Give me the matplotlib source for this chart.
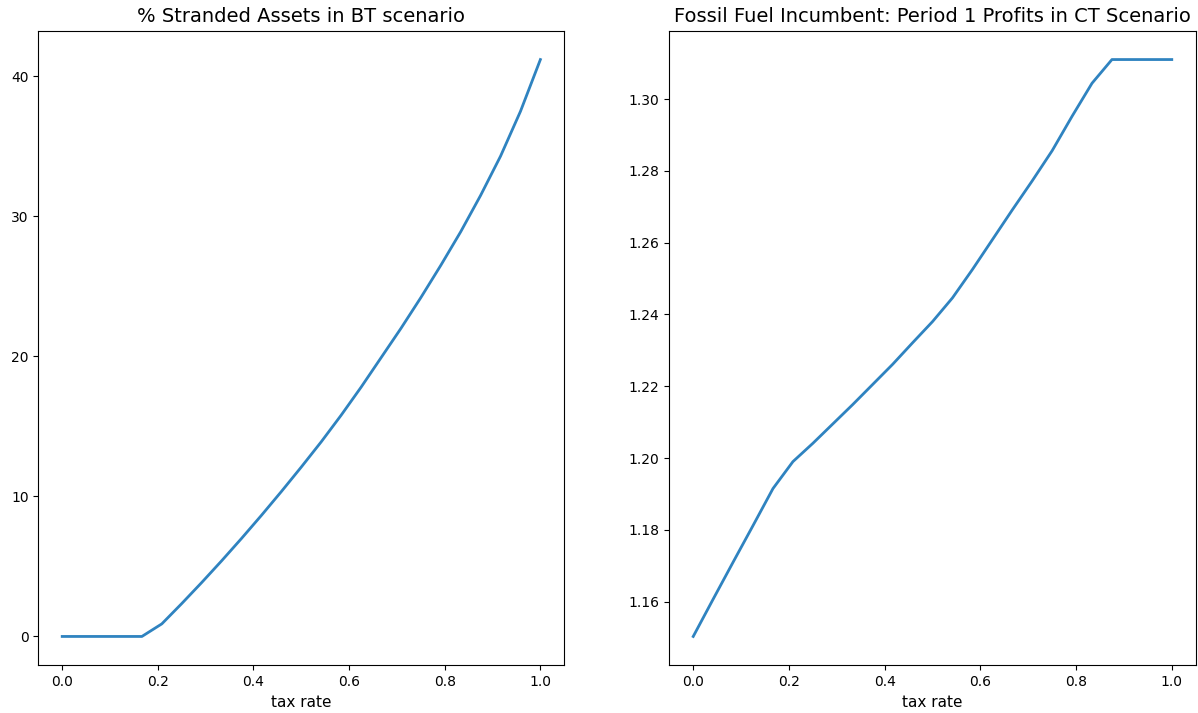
import numpy as np
import matplotlib
matplotlib.use("Agg")
import matplotlib.pyplot as plt

# Tax rate grid (25 points from 0 to 1)
tax_rate = np.linspace(0, 1, 25)

# Share of stranded assets (%) in the BT scenario
stranded_pct = [0.0, 0.0, 0.0, 0.0, 0.0, 0.9, 2.35, 3.85, 5.4, 7.0,
                8.65, 10.35, 12.1, 13.9, 15.8, 17.8, 19.9, 22.0, 24.2,
                26.5, 28.9, 31.5, 34.3, 37.5, 41.2]

# Incumbent period-1 profits in the CT scenario
profits_ct = [1.1503, 1.1607, 1.1710, 1.1812, 1.1915, 1.1990, 1.2041,
              1.2095, 1.2149, 1.2205, 1.2261, 1.2321, 1.2380, 1.2446,
              1.2525, 1.2608, 1.2691, 1.2772, 1.2856, 1.2952, 1.3044,
              1.3110, 1.3110, 1.3110, 1.3110]

W, H = 1198, 713
fig = plt.figure(figsize=(W / 100, H / 100), dpi=100)

def axes_px(left, top, right, bottom):
    return fig.add_axes([left / W, 1 - bottom / H, (right - left) / W, (bottom - top) / H])

ax1 = axes_px(38.3, 30.7, 564.3, 665.3)
ax2 = axes_px(669.3, 30.7, 1195.7, 665.3)

line_color = "#2f83c0"

ax1.plot(tax_rate, stranded_pct, color=line_color, lw=2)
ax1.set_title("% Stranded Assets in BT scenario", fontsize=14)
ax1.set_xlabel("tax rate", fontsize=11)
ax1.set_yticks([0, 10, 20, 30, 40])

ax2.plot(tax_rate, profits_ct, color=line_color, lw=2)
ax2.set_title("Fossil Fuel Incumbent: Period 1 Profits in CT Scenario", fontsize=14)
ax2.set_xlabel("tax rate", fontsize=11)
ax2.set_yticks([1.16, 1.18, 1.20, 1.22, 1.24, 1.26, 1.28, 1.30])

for ax in (ax1, ax2):
    ax.set_xticks([0.0, 0.2, 0.4, 0.6, 0.8, 1.0])
    ax.tick_params(labelsize=10)

fig.savefig("out.png", dpi=100)
